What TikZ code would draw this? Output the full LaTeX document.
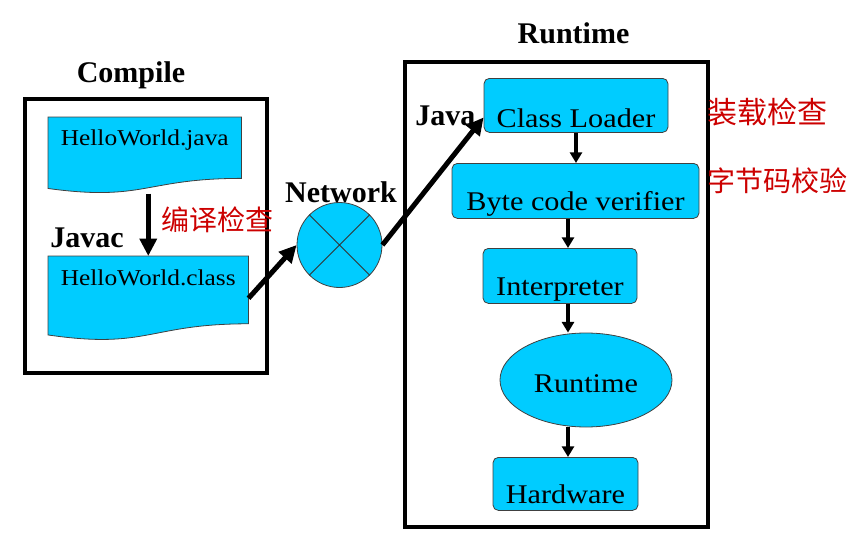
\documentclass[tikz,border=0pt]{standalone}
\usepackage{fontspec}
\newfontfamily\regf{Liberation Serif}[FakeStretch=1.12]
\newfontfamily\boldf{Liberation Serif}
\newfontfamily\cjk{Noto Sans CJK SC}
\usetikzlibrary{calc,shapes.geometric,arrows.meta,backgrounds}
\definecolor{cyanc}{RGB}{0,204,255}
\definecolor{redc}{RGB}{204,0,0}
\tikzset{
  cyanfill/.style={fill=cyanc, draw=black!75, line width=0.6pt},
  procbox/.style={cyanfill, rounded corners=4pt, inner xsep=0pt, inner ysep=0pt, anchor=north,
    font=\regf\fontsize{20.25}{24}\selectfont},
  docnode/.style={inner xsep=0pt, inner ysep=0pt, anchor=north west,
    font=\regf\fontsize{17}{20}\selectfont},
  docshape/.style={cyanfill},
  container/.style={draw=black, line width=3pt, inner sep=0pt, fill=none},
  title/.style={font=\boldf\bfseries\fontsize{22.5}{26}\selectfont, inner sep=0pt},
  cjklabel/.style={font=\cjk\fontsize{21}{24}\selectfont, text=redc, inner sep=0pt, anchor=base west},
  bigarrow/.style={line width=3.75pt, -{Triangle[length=13pt,width=12.5pt]}},
  smallarrow/.style={line width=2.6pt, -{Triangle[length=8pt,width=9pt]}},
}
\begin{document}
\begin{tikzpicture}[x=0.75pt,y=-0.75pt]
\useasboundingbox (0,0) rectangle (858,546);

% containers
\node[container, minimum width=181.5pt, minimum height=205.5pt] (compilebox) at (146,236) {};
\node[container, minimum width=227.25pt, minimum height=348.75pt] (runbox) at (556.5,294.5) {};
\node[title, anchor=base] (compiletitle) at (131,82) {Compile};
\node[title, anchor=base] (runtitle) at (573.5,43) {Runtime};

% document shapes
\node[docnode, minimum width=144.75pt, text height=21pt, text depth=36pt] (java) at (48,117) {HelloWorld.java};
\node[docnode, minimum width=150pt, text height=21.75pt, text depth=41.25pt] (classf) at (48,256) {HelloWorld.class};
\begin{scope}[on background layer]
\foreach \n in {java,classf}{
  \path[docshape] (\n.north west) -- (\n.north east)
    -- ($(\n.north east)!0.802!(\n.south east)$)
    .. controls ($(\n.north)!0.802!(\n.south)$) and ($(\n.north)!1.107!(\n.south)$)
    .. ($(\n.north west)!0.934!(\n.south west)$) -- cycle;
}
\end{scope}

\node[title, anchor=base west] (javac) at (50,247) {Javac};
\node[cjklabel] (bianyi) at (161,230) {编译检查};

% network
\node[cyanfill, circle, minimum size=63.75pt, inner sep=0pt] (net) at (339.5,245) {};
\draw[line width=0.6pt, black!80] (net.45) -- (net.225) (net.135) -- (net.315);
\node[title, anchor=base] (nettitle) at (341,202) {Network};

% runtime column
\node[procbox, minimum width=138pt, text height=36.75pt, text depth=3.75pt] (loader) at (576,78) {Class Loader};
\node[procbox, minimum width=185.25pt, text height=35.25pt, text depth=6pt] (byte) at (575.5,163) {Byte code verifier};
\node[procbox, minimum width=115.5pt, text height=35.25pt, text depth=6pt] (interp) at (560,248) {Interpreter};
\node[cyanfill, ellipse, minimum width=129pt, minimum height=70.5pt, inner sep=0pt,
      text height=20pt, text depth=2pt, font=\regf\fontsize{20.25}{24}\selectfont] (rt) at (586,380) {Runtime};
\node[procbox, minimum width=108.75pt, text height=34.5pt, text depth=5.25pt] (hw) at (565.5,457) {Hardware};

\node[title, anchor=base west] (javalbl) at (415,125) {Java};
\node[cjklabel, font=\cjk\fontsize{22.5}{26}\selectfont] (zhuangzai) at (707,123) {装载检查};
\node[cjklabel] (zijie) at (707,191) {字节码校验};

% connectors
\coordinate (ax) at (568,0);
\draw[bigarrow] (java.south -| classf.north) -- (classf.north);
\draw[bigarrow] (classf.east) -- (net.west);
\draw[bigarrow] (net.east) -- ($(loader.west)+(0,12)$);
\draw[smallarrow] (loader.south) -- (loader.south |- byte.north);
\draw[smallarrow] (byte.south -| ax) -- (interp.north -| ax);
\draw[smallarrow] (interp.south -| ax) -- (rt.north -| ax);
\draw[smallarrow] (rt.south -| ax) -- (hw.north -| ax);
\end{tikzpicture}
\end{document}
